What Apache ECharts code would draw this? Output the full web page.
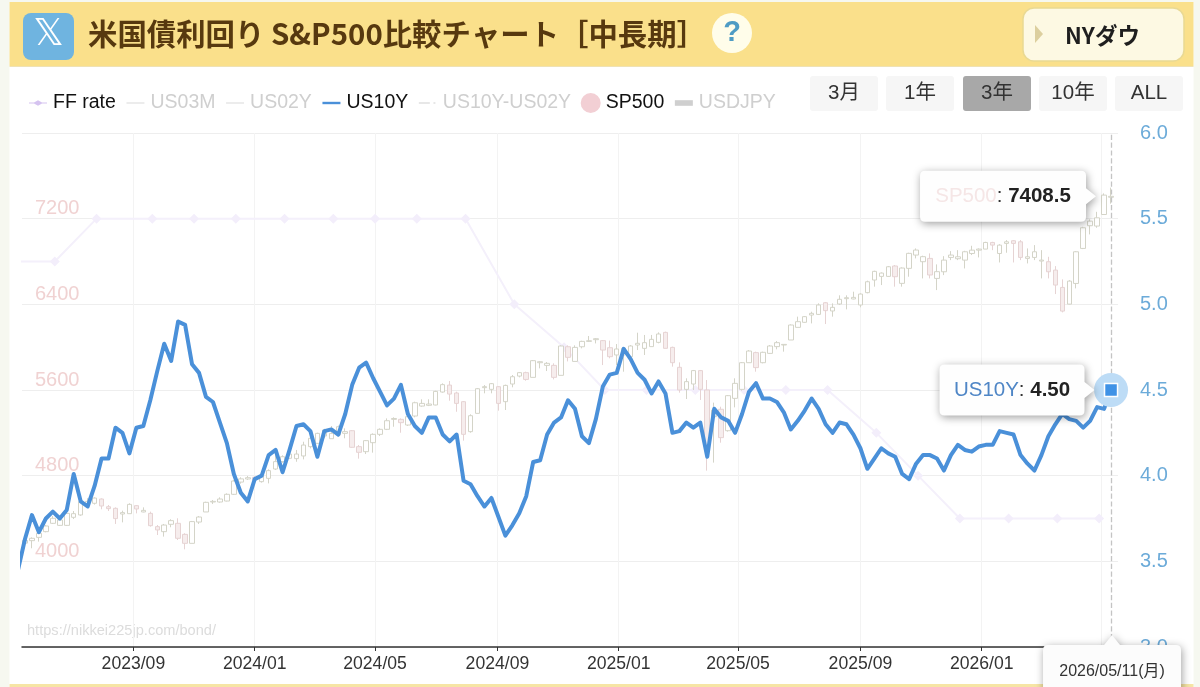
<!DOCTYPE html>
<html><head><meta charset="utf-8">
<style>html,body{margin:0;padding:0;background:#f6f8f0;overflow:hidden}#c{width:1200px;height:687px}</style>
<script src="https://cdn.jsdelivr.net/npm/echarts@6/dist/echarts.min.js"></script>
</head><body><div id="c"></div>
<script>
const weeks=["2023-05-08","2023-05-15","2023-05-22","2023-05-29","2023-06-05","2023-06-12","2023-06-19","2023-06-26","2023-07-03","2023-07-10","2023-07-17","2023-07-24","2023-07-31","2023-08-07","2023-08-14","2023-08-21","2023-08-28","2023-09-04","2023-09-11","2023-09-18","2023-09-25","2023-10-02","2023-10-09","2023-10-16","2023-10-23","2023-10-30","2023-11-06","2023-11-13","2023-11-20","2023-11-27","2023-12-04","2023-12-11","2023-12-18","2023-12-25",
"2024-01-01","2024-01-08","2024-01-15","2024-01-22","2024-01-29","2024-02-05","2024-02-12","2024-02-19","2024-02-26","2024-03-04","2024-03-11","2024-03-18","2024-03-25","2024-04-01","2024-04-08","2024-04-15","2024-04-22","2024-04-29","2024-05-06","2024-05-13","2024-05-20","2024-05-27","2024-06-03","2024-06-10","2024-06-17","2024-06-24","2024-07-01","2024-07-08","2024-07-15","2024-07-22","2024-07-29","2024-08-05","2024-08-12","2024-08-19","2024-08-26","2024-09-02","2024-09-09","2024-09-16","2024-09-23","2024-09-30","2024-10-07","2024-10-14","2024-10-21","2024-10-28","2024-11-04","2024-11-11","2024-11-18","2024-11-25","2024-12-02","2024-12-09","2024-12-16","2024-12-23","2024-12-30",
"2025-01-06","2025-01-13","2025-01-20","2025-01-27","2025-02-03","2025-02-10","2025-02-17","2025-02-24","2025-03-03","2025-03-10","2025-03-17","2025-03-24","2025-03-31","2025-04-07","2025-04-14","2025-04-21","2025-04-28","2025-05-05","2025-05-12","2025-05-19","2025-05-26","2025-06-02","2025-06-09","2025-06-16","2025-06-23","2025-06-30","2025-07-07","2025-07-14","2025-07-21","2025-07-28","2025-08-04","2025-08-11","2025-08-18","2025-08-25","2025-09-01","2025-09-08","2025-09-15","2025-09-22","2025-09-29","2025-10-06","2025-10-13","2025-10-20","2025-10-27","2025-11-03","2025-11-10","2025-11-17","2025-11-24","2025-12-01","2025-12-08","2025-12-15","2025-12-22","2025-12-29",
"2026-01-05","2026-01-12","2026-01-19","2026-01-26","2026-02-02","2026-02-09","2026-02-16","2026-02-23","2026-03-02","2026-03-09","2026-03-16","2026-03-23","2026-03-30","2026-04-06","2026-04-13","2026-04-20","2026-04-27","2026-05-04","2026-05-11"];
const us10y=[3.45,3.63,3.77,3.67,3.75,3.79,3.75,3.80,4.01,3.85,3.82,3.94,4.10,4.10,4.28,4.25,4.13,4.28,4.29,4.44,4.61,4.77,4.67,4.90,4.88,4.65,4.60,4.46,4.43,4.31,4.19,4.01,3.90,3.85,3.98,4.00,4.12,4.15,4.02,4.15,4.29,
4.30,4.26,4.11,4.26,4.27,4.24,4.36,4.53,4.63,4.66,4.57,4.49,4.41,4.45,4.53,4.36,4.29,4.25,4.34,4.34,4.24,4.20,4.24,3.97,3.95,3.88,3.82,3.87,3.76,3.65,3.71,3.78,3.88,4.08,4.09,4.24,4.31,4.34,4.44,4.39,4.23,4.19,4.33,
4.52,4.59,4.60,4.74,4.68,4.60,4.56,4.48,4.55,4.48,4.25,4.26,4.31,4.28,4.31,4.11,4.39,4.34,4.32,4.25,4.36,4.49,4.54,4.45,4.45,4.43,4.37,4.27,4.32,4.38,4.45,4.39,4.30,4.25,4.31,4.30,4.24,4.16,4.04,4.10,4.16,4.13,4.11,
4.01,3.98,4.07,4.12,4.12,4.10,4.03,4.12,4.18,4.15,4.14,4.17,4.18,4.18,4.26,4.25,4.24,4.12,4.07,4.03,4.12,4.23,4.30,4.36,4.33,4.32,4.28,4.32,4.40,4.39,4.50];
const opens=[4170,4193,4224,4277,4355,4336,4336,4411,4433,4535,4542,4582,4510,4495,4442,4445,4520,4461,4448,4324,4277,4346,4355,4252,4168,4367,4461,4554,4554,4563,4626,4740,4769,4785,4744,4775,4862,4931,4962,4959,
4984,5071,5102,5170,5145,5180,5195,5220,5071,5024,5108,5186,5233,5326,5326,5273,5357,5450,5457,5460,5581,5646,5572,5491,5211,5382,5622,5606,5631,5491,5656,5730,5762,5718,5855,5830,5830,5737,6004,5867,6004,6054,6070,
6061,5995,5927,5927,5911,6020,5989,6005,6045,6138,5998,5812,5606,5656,5781,5600,5351,5420,5220,5522,5606,5855,5949,5855,5942,6005,6020,6067,6185,6232,6300,6306,6415,6338,6403,6453,6450,6394,6509,6627,6661,6661,6758,
6596,6736,6860,6798,6829,6642,6704,6838,6826,6813,6875,6906,6916,6978,6875,6969,6994,6984,6829,6838,6804,6798,6720,6558,6402,6595,6922,7134,7131,7239,7400];
const closes=[4195,4215,4262,4330,4402,4386,4448,4445,4557,4560,4591,4517,4492,4399,4455,4532,4489,4476,4333,4293,4339,4380,4215,4168,4371,4414,4551,4560,4582,4626,4750,4770,4781,4760,4797,4847,4931,4977,5002,5002,
5086,5149,5195,5226,5195,5257,5211,5065,5018,5127,5186,5233,5313,5334,5295,5351,5481,5475,5469,5587,5650,5562,5475,5186,5360,5612,5631,5659,5475,5643,5724,5762,5699,5874,5864,5849,5718,6011,5905,5998,6054,6060,6079,
5973,5911,5983,5989,6011,6036,6042,6073,6123,5989,5855,5600,5678,5781,5606,5073,5413,5155,5547,5662,5855,5964,5809,5952,6011,6042,6026,6207,6238,6285,6316,6394,6341,6372,6447,6462,6465,6496,6611,6708,6692,6751,6658,
6739,6876,6907,6845,6674,6705,6813,6860,6844,6891,6906,6916,6978,6953,6953,6984,6969,6838,6844,6891,6813,6704,6580,6337,6617,6891,7115,7177,7208,7420,7408.5];
const lows=[4160,4122,4184,4271,4349,4330,4330,4395,4425,4525,4530,4486,4470,4349,4364,4445,4448,4458,4324,4246,4231,4318,4199,4112,4168,4349,4461,4535,4548,4560,4620,4725,4760,4745,4735,4728,4853,4920,4955,4930,
4952,5055,5096,5150,5145,5165,5149,5060,4959,5002,5015,5170,5226,5257,5201,5264,5345,5444,5450,5457,5575,5500,5397,5127,5201,5382,5569,5569,5407,5413,5625,5718,5687,5718,5802,5777,5699,5737,5867,5867,5989,6048,6035,
5833,5896,5833,5771,5896,5973,5927,6005,6036,5989,5818,5575,5516,5600,5507,4847,4922,5108,5211,5438,5594,5855,5771,5849,5936,5980,5958,6067,6185,6229,6222,6300,6216,6285,6394,6353,6447,6372,6503,6565,6580,6658,6565,
6565,6658,6829,6642,6642,6533,6673,6813,6813,6735,6860,6838,6916,6906,6791,6882,6791,6813,6782,6813,6642,6642,6496,6325,6399,6549,6916,7053,7115,7239,7340];
const highs=[4210,4224,4271,4339,4423,4402,4455,4470,4565,4590,4598,4588,4526,4504,4473,4542,4526,4504,4464,4339,4349,4393,4402,4262,4377,4423,4557,4573,4598,4635,4760,4785,4797,4795,4805,4859,4993,4990,5020,5040,
5117,5180,5201,5238,5264,5268,5242,5226,5086,5133,5195,5242,5335,5345,5335,5366,5491,5513,5513,5593,5662,5684,5584,5497,5373,5618,5646,5665,5637,5650,5740,5768,5771,5880,5870,5861,5849,6017,6017,6017,6060,6104,6085,
6067,6061,6029,5989,6020,6135,6114,6114,6138,6145,6005,5858,5709,5787,5787,5693,5482,5444,5553,5709,5861,5973,5958,5958,6020,6057,6026,6213,6285,6291,6331,6409,6422,6409,6484,6484,6518,6503,6621,6714,6698,6758,6767,
6745,6882,6922,6854,6876,6773,6850,6897,6906,6900,6947,6922,6984,6984,6962,7000,7000,7000,6922,6953,6906,6844,6757,6633,6626,6897,7124,7193,7264,7436,7490];
const ffDates=["2023-05-03","2023-06-14","2023-07-26","2023-09-20","2023-11-01","2023-12-13","2024-01-31","2024-03-20","2024-05-01","2024-06-12","2024-07-31","2024-09-18","2024-11-07","2024-12-18","2025-01-29","2025-03-19","2025-05-07","2025-06-18","2025-07-30","2025-09-17","2025-10-29","2025-12-10","2026-01-28","2026-03-18","2026-04-29"];
const ffRates=[5.25,5.25,5.5,5.5,5.5,5.5,5.5,5.5,5.5,5.5,5.5,5.0,4.75,4.5,4.5,4.5,4.5,4.5,4.5,4.25,4.0,3.75,3.75,3.75,3.75];
const tickDates=["2023-09-01","2024-01-01","2024-05-01","2024-09-01","2025-01-01","2025-05-01","2025-09-01","2026-01-01","2026-05-01"];
const legendNames=["FF rate","US03M","US02Y","US10Y","US10Y-US02Y","SP500","USDJPY"];
const rangeButtons=["3月","1年","3年","10年","ALL"];
const ts=(d)=>Date.parse(d);
const lastDate=ts(weeks[weeks.length-1]);
const lastYield=us10y[us10y.length-1];
const lastPrice=closes[closes.length-1];
const tickValues=tickDates.map(ts);

const CJK='"Liberation Sans","Noto Sans CJK JP",sans-serif';
const CJKB='"Noto Sans CJK JP","Liberation Sans",sans-serif';
const SANS='"Liberation Sans",Arial,sans-serif';
const corner='M0 0L0 0M100 100L100 100';
const lineIcon=(t)=>`path://${corner}M5 ${50-t}H95V${50+t}H5Z`;
const callout=(w,h)=>{const b=w-10,m=h/2;return `path://M5 0H${b-5}Q${b} 0 ${b} 5V${m-8}L${w} ${m}L${b} ${m+8}V${h-5}Q${b} ${h} ${b-5} ${h}H5Q0 ${h} 0 ${h-5}V5Q0 0 5 0Z`;};
const shadow={shadowBlur:8,shadowColor:'rgba(0,0,0,.38)',shadowOffsetX:1,shadowOffsetY:2};

const btnX=[810,886,963,1039,1115];
const graphics=[
 {type:'rect',z:-5,silent:true,shape:{x:9.5,y:2,width:1184,height:685},style:{fill:'#fff'}},
 {type:'rect',z:-4,silent:true,shape:{x:9.5,y:2,width:1184,height:64},style:{fill:'#fae08b'}},
 {type:'rect',z:-4,silent:true,shape:{x:9.5,y:66,width:1184,height:1},style:{fill:'#efe2b4'}},
 {type:'rect',z:-4,silent:true,shape:{x:9.5,y:684,width:1184,height:3},style:{fill:'#f6e5a5'}},
 {type:'rect',silent:true,shape:{x:23,y:13,width:51,height:47,r:8},style:{fill:'#6fb4e0'}},
 {type:'text',silent:true,style:{x:48.5,y:35,text:'𝕏',fill:'#fff',font:'38px "DejaVu Sans"',align:'center',verticalAlign:'middle'}},
 {type:'text',silent:true,style:{x:88,y:34,text:'米国債利回り S&P500比較チャート［中長期］',fill:'#57390f',font:'bold 29.4px '+CJKB,verticalAlign:'middle'}},
 {type:'circle',silent:true,shape:{cx:732,cy:33,r:20},style:{fill:'#fffdea'}},
 {type:'text',silent:true,style:{x:732,y:33,text:'?',fill:'#4f9cc4',font:'bold 29px '+SANS,align:'center',verticalAlign:'middle'}},
 {type:'rect',silent:true,shape:{x:1023,y:8,width:161,height:53,r:11},style:{fill:'#fdf9e3',stroke:'#e9d993',lineWidth:1.5}},
 {type:'polygon',silent:true,shape:{points:[[1035,25],[1043,34],[1035,43]]},style:{fill:'#dccf9e'}},
 {type:'text',silent:true,style:{x:1065,y:35,text:'NYダウ',fill:'#1f1f1f',font:'bold 22.5px '+CJKB,verticalAlign:'middle'}},
 {type:'text',silent:true,style:{x:27,y:631,text:'https://nikkei225jp.com/bond/',fill:'#dcdcdc',font:'14.6px '+SANS,verticalAlign:'middle'}}
];
rangeButtons.forEach((t,i)=>{
 graphics.push({type:'rect',silent:true,shape:{x:btnX[i],y:76,width:68,height:35,r:3},style:{fill:i===2?'#a8a8a8':'#f6f6f6'}});
 graphics.push({type:'text',silent:true,style:{x:btnX[i]+34,y:93,text:t,fill:'#333',font:'20.5px '+CJK,align:'center',verticalAlign:'middle'}});
});

const chart=echarts.init(document.getElementById('c'),null,{renderer:'canvas'});
chart.setOption({
 animation:false,
 backgroundColor:'transparent',
 graphic:graphics,
 legend:{
  left:23,top:88,itemWidth:20,itemHeight:22,itemGap:9.6,
  inactiveColor:'#cfcfcf',
  textStyle:{fontFamily:SANS,fontSize:19.5,color:'#111'},
  selected:{US03M:false,US02Y:false,'US10Y-US02Y':false,USDJPY:false},
  data:[
   {name:legendNames[0],icon:`path://${corner}M5 48H30L50 36L70 48H95V52H70L50 64L30 52H5Z`,itemStyle:{color:'#d5c3f0'}},
   {name:legendNames[1],icon:lineIcon(2)},
   {name:legendNames[2],icon:lineIcon(2)},
   {name:legendNames[3],icon:lineIcon(6),itemStyle:{color:'#4a90d9'}},
   {name:legendNames[4],icon:`path://${corner}M5 48H60V52H5ZM78 48H88V52H78Z`},
   {name:legendNames[5],icon:'circle',itemStyle:{color:'#f2cfd4',borderWidth:0}},
   {name:legendNames[6],icon:`path://${corner}M5 36H95V64H5Z`}
  ]
 },
 grid:{left:22,right:82,top:133,bottom:40},
 xAxis:{
  type:'value',min:ts('2023-05-12'),max:ts('2026-05-18'),
  axisLine:{onZero:false,lineStyle:{color:'#333',width:1.5}},
  axisTick:{show:true,length:4,lineStyle:{color:'#333'},customValues:tickValues},
  axisLabel:{customValues:tickValues,fontFamily:SANS,fontSize:17.6,color:'#333',margin:8,
   formatter:(v)=>new Date(v).toISOString().slice(0,7).replace('-','/')},
  splitLine:{show:true,lineStyle:{color:'#f3f3f3',width:1}}
 },
 yAxis:[
  {type:'value',min:3200,max:8000,interval:800,position:'left',
   axisLine:{show:false},axisTick:{show:false},
   axisLabel:{inside:true,showMinLabel:false,showMaxLabel:false,margin:13,fontFamily:SANS,fontSize:20,color:'#f0d2d2',verticalAlign:'bottom',lineHeight:20,
    formatter:(v)=>String(v)},
   splitLine:{lineStyle:{color:'#eeeeee',width:1}}},
  {type:'value',min:3,max:6,interval:0.5,position:'right',
   axisLine:{show:false},axisTick:{show:false},
   axisLabel:{margin:22,fontFamily:SANS,fontSize:20,color:'#6cabd9',padding:[5,0,0,0],formatter:(v)=>v.toFixed(1)},
   splitLine:{show:false}}
 ],
 series:[
  {name:legendNames[0],type:'line',yAxisIndex:1,z:1,
   data:ffDates.map((d,i)=>[ts(d),ffRates[i]]),
   symbol:'diamond',symbolSize:10,showSymbol:true,
   itemStyle:{color:'#f3eefb',borderWidth:0},lineStyle:{color:'#f4f0fb',width:2}},
  {name:legendNames[1],type:'line',yAxisIndex:1,data:[],itemStyle:{color:'#ccc'}},
  {name:legendNames[2],type:'line',yAxisIndex:1,data:[],itemStyle:{color:'#ccc'}},
  {name:legendNames[4],type:'line',yAxisIndex:1,data:[],itemStyle:{color:'#ccc'}},
  {name:legendNames[6],type:'line',yAxisIndex:1,data:[],itemStyle:{color:'#ccc'}},
  {name:legendNames[5],type:'candlestick',yAxisIndex:0,z:2,barWidth:5,
   data:weeks.slice(1).map((d,i)=>[ts(d),opens[i],closes[i],lows[i],highs[i]]),
   itemStyle:{color:'#ffffff',color0:'#f6eded',borderColor:'#d4d4c8',borderColor0:'#e6d3d3',borderWidth:1},
   markPoint:{silent:true,z:8,data:[{
     coord:[lastDate,lastPrice],
     symbol:callout(176,51),symbolSize:[176,51],symbolOffset:[-103,0],
     itemStyle:Object.assign({color:'#fefefe',borderWidth:0},shadow),
     label:{show:true,position:'inside',offset:[-5,0],formatter:`{a|${legendNames[5]}}{c|: }{b|${lastPrice}}`,
      rich:{a:{fontFamily:SANS,fontSize:20.5,color:'#f5e6e6'},c:{fontFamily:SANS,fontSize:20.5,color:'#333'},b:{fontFamily:SANS,fontSize:20.5,fontWeight:'bold',color:'#222'}}}
   }]}
  },
  {name:legendNames[3],type:'line',yAxisIndex:1,z:4,
   data:weeks.map((d,i)=>[ts(d),us10y[i]]),
   showSymbol:false,symbol:'none',
   itemStyle:{color:'#4a90d9'},
   lineStyle:{color:'#4a90d9',width:4,join:'round',cap:'round'},
   markLine:{silent:true,symbol:'none',z:3,label:{show:false},
     lineStyle:{color:'#c4c4c4',type:'dashed',width:1.3},
     data:[{xAxis:lastDate}]},
   markPoint:{silent:true,z:9,data:[
    {coord:[lastDate,lastYield],symbol:'circle',symbolSize:34,itemStyle:{color:'#bddcf6'},label:{show:false}},
    {coord:[lastDate,lastYield],symbol:'rect',symbolSize:13,itemStyle:{color:'#3f92e6',borderColor:'#fff',borderWidth:1.5},label:{show:false}},
    {coord:[lastDate,lastYield],symbol:callout(155,51),symbolSize:[155,51],symbolOffset:[-94,0],
     itemStyle:Object.assign({color:'#fefefe',borderWidth:0},shadow),
     label:{show:true,position:'inside',offset:[-5,0],formatter:`{a|${legendNames[3]}}{c|: }{b|${lastYield.toFixed(2)}}`,
      rich:{a:{fontFamily:SANS,fontSize:20.5,color:'#4f86c6'},c:{fontFamily:SANS,fontSize:20.5,color:'#333'},b:{fontFamily:SANS,fontSize:20.5,fontWeight:'bold',color:'#222'}}}},
    {coord:[lastDate,3],symbol:'path://M5 10H61L69 0L77 10H133Q138 10 138 15V60H0V15Q0 10 5 10Z',symbolSize:[138,60],symbolOffset:[1,18],
     itemStyle:Object.assign({color:'#fcfcfc',borderWidth:0},shadow),
     label:{show:true,position:'inside',offset:[0,7],formatter:'2026/05/11(月)',fontFamily:CJK,fontSize:16,color:'#333'}}
   ]}
  }
 ]
});
</script></body></html>
